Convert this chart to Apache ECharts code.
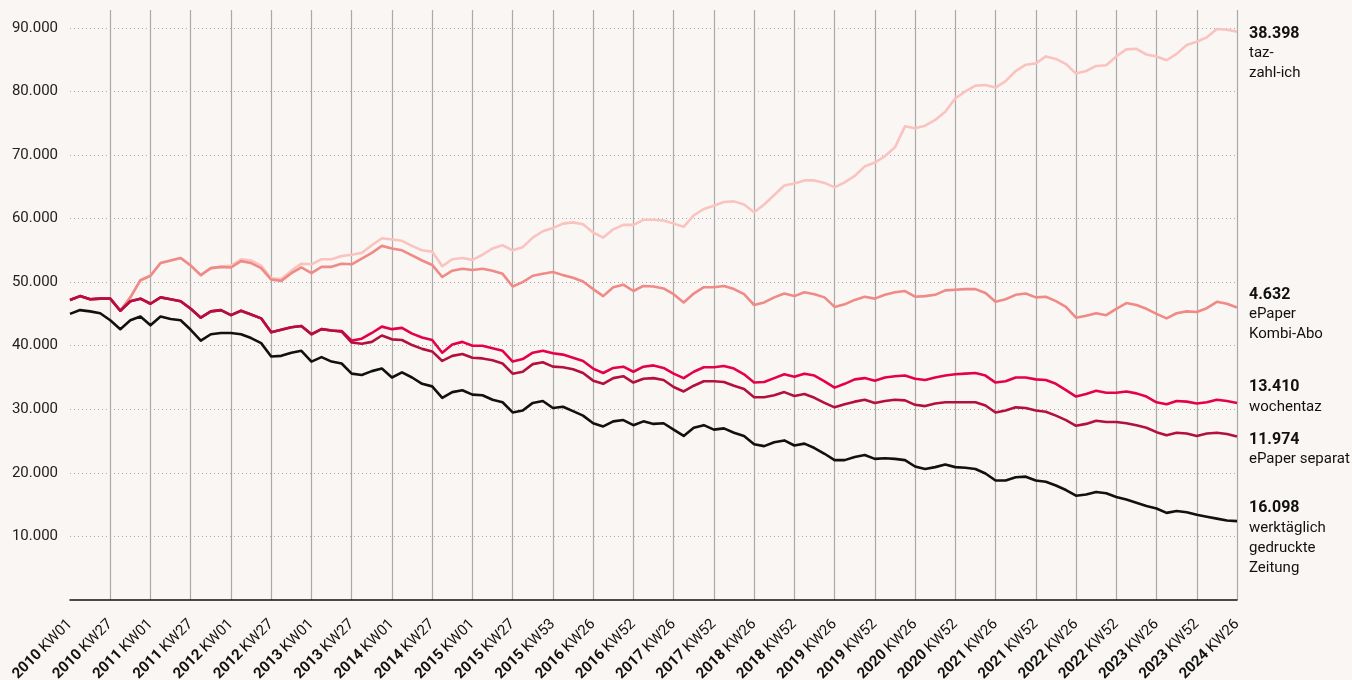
<!DOCTYPE html>
<html>
<head>
<meta charset="utf-8">
<script src="https://cdn.jsdelivr.net/npm/echarts@6/dist/echarts.min.js"></script>
<style>
  html, body { margin: 0; padding: 0; background: #f9f6f3; }
  #chart { width: 1352px; height: 680px; }
</style>
</head>
<body>
<div id="chart"></div>
<script>
// one tick label every 4 points (points are ~6.5 weeks apart)
var tickLabels = [
	'2010 KW01', '2010 KW27', '2011 KW01', '2011 KW27', '2012 KW01', '2012 KW27',
	'2013 KW01', '2013 KW27', '2014 KW01', '2014 KW27', '2015 KW01', '2015 KW27',
	'2015 KW53', '2016 KW26', '2016 KW52', '2017 KW26', '2017 KW52', '2018 KW26',
	'2018 KW52', '2019 KW26', '2019 KW52', '2020 KW26', '2020 KW52', '2021 KW26',
	'2021 KW52', '2022 KW26', '2022 KW52', '2023 KW26', '2023 KW52', '2024 KW26'
];

// values in thousands
var tazZahlIch = [
	47.2,47.8,47.3,47.4,47.4,45.5,47.6,50.3,51.0,53.0,
	53.4,53.8,52.6,51.1,52.2,52.4,52.6,53.6,53.4,52.6,
	50.6,50.5,51.8,52.9,52.8,53.6,53.6,54.1,54.3,54.6,
	55.8,56.9,56.7,56.5,55.7,55.0,54.8,52.5,53.6,53.8,
	53.5,54.3,55.3,55.8,55.0,55.5,57.0,58.0,58.5,59.2,
	59.4,59.1,57.8,57.0,58.3,59.0,59.0,59.8,59.8,59.7,
	59.2,58.7,60.5,61.5,62.0,62.6,62.7,62.2,61.0,62.2,
	63.7,65.2,65.5,66.0,66.0,65.6,64.9,65.7,66.7,68.2,
	68.8,69.8,71.2,74.5,74.2,74.6,75.5,76.8,78.9,80.0,
	80.9,81.0,80.6,81.6,83.2,84.2,84.4,85.5,85.1,84.3,
	82.8,83.2,84.0,84.1,85.5,86.6,86.7,85.8,85.5,84.9,
	85.9,87.3,87.8,88.5,89.8,89.7,89.4
];
var ePaperKombi = [
	47.2,47.8,47.3,47.4,47.4,45.5,47.6,50.3,51.0,53.0,
	53.4,53.8,52.6,51.1,52.2,52.4,52.3,53.3,53.0,52.2,
	50.4,50.2,51.4,52.3,51.4,52.4,52.4,52.9,52.8,53.7,
	54.6,55.7,55.3,55.0,54.2,53.4,52.7,50.8,51.8,52.1,
	51.9,52.1,51.8,51.3,49.3,50.0,51.0,51.3,51.6,51.1,
	50.7,50.1,48.9,47.8,49.2,49.6,48.6,49.4,49.3,49.0,
	48.1,46.8,48.2,49.2,49.2,49.4,48.9,48.1,46.4,46.8,
	47.6,48.2,47.8,48.4,48.1,47.6,46.1,46.5,47.2,47.7,
	47.4,48.0,48.4,48.6,47.7,47.8,48.0,48.7,48.8,48.9,
	48.9,48.3,46.9,47.3,48.0,48.2,47.6,47.7,47.0,46.1,
	44.4,44.7,45.1,44.8,45.8,46.7,46.4,45.8,45.0,44.3,
	45.1,45.4,45.3,45.9,46.9,46.6,46.0
];
var wochentaz = [
	47.2,47.8,47.3,47.4,47.4,45.5,47.0,47.4,46.6,47.6,
	47.3,47.0,45.8,44.4,45.4,45.6,44.8,45.5,44.9,44.3,
	42.1,42.5,42.9,43.1,41.8,42.6,42.4,42.3,40.8,41.1,
	42.0,43.0,42.6,42.8,41.9,41.3,40.9,38.9,40.2,40.6,
	40.0,40.0,39.6,39.2,37.5,37.9,38.9,39.2,38.8,38.6,
	38.1,37.6,36.4,35.7,36.5,36.7,35.9,36.7,36.9,36.5,
	35.6,34.9,35.9,36.6,36.6,36.8,36.4,35.5,34.2,34.3,
	34.9,35.5,35.1,35.6,35.3,34.4,33.4,34.0,34.7,34.9,
	34.5,35.0,35.2,35.3,34.8,34.6,35.0,35.3,35.5,35.6,
	35.7,35.3,34.2,34.4,35.0,35.0,34.7,34.6,34.0,33.0,
	32.0,32.4,32.9,32.6,32.6,32.8,32.5,32.0,31.1,30.8,
	31.3,31.2,30.9,31.1,31.5,31.3,31.0
];
var ePaperSeparat = [
	47.2,47.8,47.3,47.4,47.4,45.5,47.0,47.4,46.6,47.6,
	47.3,47.0,45.8,44.4,45.4,45.6,44.8,45.5,44.9,44.3,
	42.1,42.5,42.9,43.1,41.8,42.6,42.4,42.2,40.5,40.3,
	40.6,41.6,41.0,40.9,40.1,39.5,39.1,37.6,38.4,38.7,
	38.1,38.0,37.7,37.2,35.6,35.9,37.1,37.4,36.7,36.6,
	36.3,35.7,34.5,34.0,34.9,35.2,34.2,34.8,34.9,34.6,
	33.5,32.8,33.7,34.4,34.4,34.3,33.7,33.2,31.9,31.9,
	32.2,32.7,32.1,32.4,31.8,31.0,30.3,30.8,31.2,31.5,
	31.0,31.3,31.5,31.4,30.7,30.5,30.9,31.1,31.1,31.1,
	31.1,30.6,29.5,29.8,30.3,30.2,29.8,29.6,29.0,28.3,
	27.4,27.7,28.2,28.0,28.0,27.8,27.5,27.1,26.4,25.9,
	26.3,26.2,25.8,26.2,26.3,26.1,25.7
];
var werktaeglich = [
	45.0,45.6,45.4,45.1,44.0,42.6,44.0,44.6,43.2,44.6,
	44.2,44.0,42.5,40.8,41.8,42.0,42.0,41.8,41.2,40.4,
	38.3,38.4,38.9,39.2,37.5,38.2,37.5,37.2,35.6,35.4,
	36.0,36.4,35.0,35.8,35.0,34.0,33.6,31.8,32.7,33.0,
	32.3,32.2,31.5,31.1,29.5,29.8,31.0,31.3,30.2,30.4,
	29.7,29.0,27.8,27.3,28.1,28.3,27.5,28.1,27.7,27.8,
	26.8,25.8,27.1,27.5,26.8,27.0,26.3,25.8,24.5,24.2,
	24.8,25.1,24.3,24.6,23.9,23.0,22.0,22.0,22.5,22.8,
	22.2,22.3,22.2,22.0,21.0,20.6,20.9,21.3,20.9,20.8,
	20.6,19.9,18.8,18.8,19.3,19.4,18.8,18.6,18.0,17.3,
	16.4,16.6,17.0,16.8,16.2,15.8,15.3,14.8,14.4,13.7,
	14.0,13.8,13.4,13.1,12.8,12.5,12.4
];

var seriesNames = ['taz-zahl-ich', 'ePaper Kombi-Abo', 'wochentaz', 'ePaper separat', 'werktäglich gedruckte Zeitung'];
var endValues = ['38.398', '4.632', '13.410', '11.974', '16.098'];
var endNameLines = [
	['taz-', 'zahl-ich'],
	['ePaper', 'Kombi-Abo'],
	['wochentaz'],
	['ePaper separat'],
	['werktäglich', 'gedruckte', 'Zeitung']
];

var colors = ['#fbc3bf', '#f08a86', '#e5004c', '#b3103e', '#111111'];
var labelShiftY = [-8, -23, -26, -7, -23];

var font = "Roboto, 'Liberation Sans', sans-serif";

var chart = echarts.init(document.getElementById('chart'));

function toPairs(arr) {
	return arr.map(function (v, i) { return [i, v]; });
}

var allData = [tazZahlIch, ePaperKombi, wochentaz, ePaperSeparat, werktaeglich];

var series = allData.map(function (arr, k) {
	return {
		name: seriesNames[k],
		type: 'line',
		data: toPairs(arr),
		showSymbol: false,
		symbol: 'none',
		animation: false,
		lineStyle: { color: colors[k], width: 2.6, join: 'round' },
		itemStyle: { color: colors[k] },
		endLabel: {
			show: true,
			distance: 12,
			align: 'left',
			verticalAlign: 'top',
			offset: [0, labelShiftY[k]],
			formatter: function () {
				var lines = endNameLines[k].map(function (l) { return '{n|' + l + '}'; });
				return '{v|' + endValues[k] + '}\n' + lines.join('\n');
			},
			rich: {
				v: { fontFamily: font, fontSize: 16, fontWeight: 'bold', color: '#111', lineHeight: 20 },
				n: { fontFamily: font, fontSize: 15, color: '#111', lineHeight: 20 }
			}
		}
	};
});

chart.setOption({
	backgroundColor: '#f9f6f3',
	animation: false,
	grid: { left: 70, right: 115, top: 10, bottom: 80, containLabel: false, outerBoundsMode: 'none' },
	xAxis: {
		type: 'value',
		min: 0,
		max: 116,
		interval: 4,
		axisLine: { show: true, lineStyle: { color: '#111', width: 1.5 } },
		axisTick: { show: false },
		splitLine: { show: true, showMinLine: false, lineStyle: { color: '#aaaaaa', width: 1.2 } },
		axisLabel: {
			rotate: 45,
			margin: 22,
			formatter: function (v) {
				var t = tickLabels[Math.round(v / 4)] || '';
				var p = t.split(' ');
				return '{y|' + p[0] + '} {k|' + p[1] + '}';
			},
			rich: {
				y: { fontFamily: font, fontSize: 15, fontWeight: 'bold', color: '#111' },
				k: { fontFamily: font, fontSize: 15, color: '#111' }
			}
		}
	},
	yAxis: {
		type: 'value',
		min: 0,
		max: 92.8,
		interval: 10,
		axisLine: { show: false },
		axisTick: { show: false },
		splitLine: { show: true, showMinLine: false, showMaxLine: false, lineStyle: { color: '#aaaaaa', width: 1, type: [1, 3] } },
		axisLabel: {
			showMinLabel: false,
			showMaxLabel: false,
			margin: 12,
			fontFamily: font,
			fontSize: 15,
			color: '#222',
			formatter: function (v) { return v + '.000'; }
		}
	},
	series: series
});
</script>
</body>
</html>
